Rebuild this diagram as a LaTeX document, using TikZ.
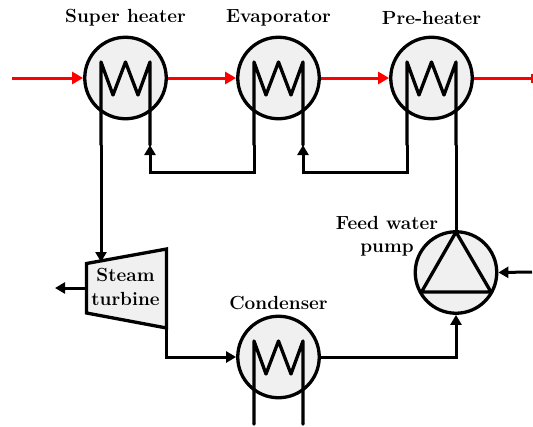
\documentclass[tikz,border=0pt]{standalone}
\usetikzlibrary{arrows.meta}
\tikzset{
  vessel/.style={circle,draw=black,fill=black!6,line width=3.3pt,minimum size=81.5pt,inner sep=0pt},
  lab/.style={font=\fontsize{19}{23.5}\selectfont\bfseries,align=center,text=black,inner sep=0pt},
  coilline/.style={line width=3.3pt,line join=round,line cap=round},
  pipe/.style={line width=3pt,line join=miter},
  flow/.style={pipe,-{Triangle[length=10pt,width=11pt]}},
  hot/.style={line width=3pt,red,-{Triangle[length=11pt,width=12pt]}},
  pics/coil/.style={code={
    \coordinate (-l) at (-24.5,67);
    \coordinate (-r) at (24.5,67);
    \draw[coilline] (-l) -- (-24.5,-16) -- (-12.5,17) -- (0,-16) -- (12.5,17) -- (24.5,-16) -- (-r);
  }}
}
\begin{document}
\begin{tikzpicture}[x=1pt,y=-1pt]
\useasboundingbox (0,0) rectangle (533,426);
% vessels
\node[vessel] (sh) at (125.5,78) {};
\node[vessel] (ev) at (278.5,78) {};
\node[vessel] (ph) at (431.5,78) {};
\node[vessel] (co) at (278.5,357) {};
\node[vessel] (pu) at (456,272.5) {};
\pic (csh) at (125.5,78) {coil};
\pic (cev) at (278.5,78) {coil};
\pic (cph) at (431.5,78) {coil};
\pic (cco) at (278.5,357) {coil};
% turbine
\coordinate (t1) at (86.5,263.5);
\coordinate (t2) at (166.5,249);
\coordinate (t3) at (166.5,328);
\coordinate (t4) at (86.5,313);
\draw[line width=3.3pt,fill=black!6,line join=miter] (t1) -- (t2) -- (t3) -- (t4) -- cycle;
\node[lab] (tu) at (125.5,287) {Steam\\turbine};
% pump triangle
\coordinate (pa) at (456,232);
\coordinate (pb) at (421.5,292);
\coordinate (pc) at (491,292);
\draw[line width=3.3pt,line join=round] (pa) -- (pb) -- (pc) -- cycle;
% labels
\node[lab] (l1) at (125.5,18) {Super heater};
\node[lab] (l2) at (278.5,18) {Evaporator};
\node[lab] (l3) at (431.5,18) {Pre-heater};
\node[lab] (l4) at (278.5,303) {Condenser};
\node[lab] (l5) at (387,236) {Feed water\\pump};
% free ends
\coordinate (in) at (12,78);
\coordinate (out) at (534,78);
\coordinate (ex) at (55,288);
\coordinate (pin) at (532,272);
\coordinate (tt) at (101,262);
\coordinate (cl) at (254,424);
\coordinate (cr) at (303,424);
% red stream
\draw[hot] (in) -- (sh.west);
\draw[hot] (sh.east) -- (ev.west);
\draw[hot] (ev.east) -- (ph.west);
\draw[line width=3pt,red,-{Bar[width=9pt]}] (ph.east) -- (out);
% water/steam
\draw[flow] (csh-l) -- (tt);
\draw[flow] (cev-l) -- ++(0,27) -| (csh-r);
\draw[flow] (cph-l) -- ++(0,27) -| (cev-r);
\draw[pipe] (pa) -- (cph-r);
\draw[flow] (t3) |- (co.west);
\draw[flow] (co.east) -| (pu.south);
\draw[flow] (t4 |- 0,288) -- (ex);
\draw[flow] (pin) -- (pu.east);
\draw[coilline] (cco-l) -- (cl);
\draw[coilline] (cco-r) -- (cr);
\end{tikzpicture}
\end{document}
